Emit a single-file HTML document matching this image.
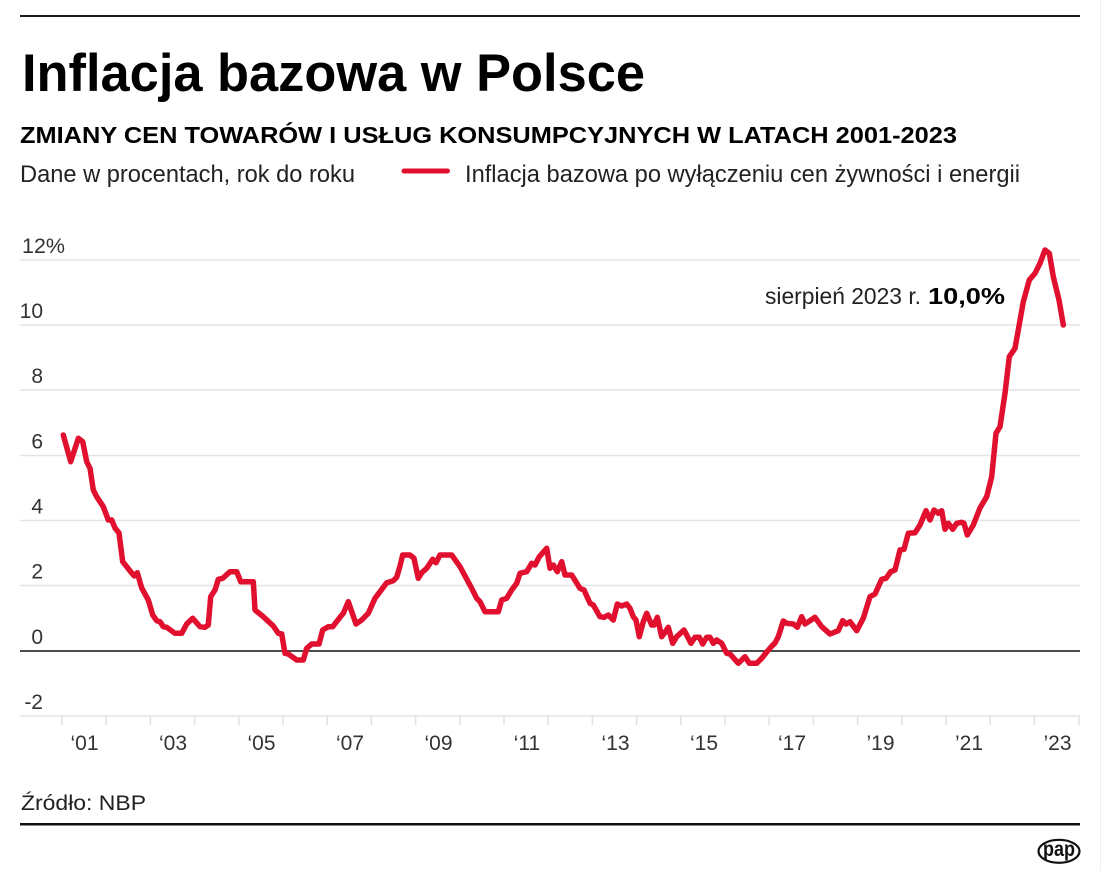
<!DOCTYPE html>
<html>
<head>
<meta charset="utf-8">
<style>
  html,body{margin:0;padding:0;background:#fff;}
  svg{display:block;}
  text{font-family:"Liberation Sans", "DejaVu Sans", sans-serif;}
</style>
</head>
<body>
<svg width="1103" height="871" viewBox="0 0 1103 871" xmlns="http://www.w3.org/2000/svg">
  <rect x="0" y="0" width="1103" height="871" fill="#fff"/>
  <line x1="1100.5" y1="0" x2="1100.5" y2="871" stroke="#eeeeee" stroke-width="1"/>

  <!-- top rule -->
  <rect x="20" y="15" width="1060" height="2" fill="#1a1a1a"/>

  <!-- title -->
  <text x="22" y="91" font-size="53" font-weight="bold" fill="#000" textLength="623" lengthAdjust="spacingAndGlyphs">Inflacja bazowa w Polsce</text>
  <text x="20" y="143" font-size="23" font-weight="bold" fill="#000" textLength="937" lengthAdjust="spacingAndGlyphs">ZMIANY CEN TOWARÓW I USŁUG KONSUMPCYJNYCH W LATACH 2001-2023</text>
  <text x="20" y="182" font-size="24" fill="#222" textLength="335" lengthAdjust="spacingAndGlyphs">Dane w procentach, rok do roku</text>
  <line x1="404" y1="171" x2="447.5" y2="171" stroke="#e0102e" stroke-width="5" stroke-linecap="round"/>
  <text x="465" y="182" font-size="24" fill="#222" textLength="555" lengthAdjust="spacingAndGlyphs">Inflacja bazowa po wyłączeniu cen żywności i energii</text>

  <!-- gridlines -->
  <g stroke="#e4e4e4" stroke-width="1.5">
    <line x1="20" y1="260" x2="1080" y2="260"/>
    <line x1="20" y1="325" x2="1080" y2="325"/>
    <line x1="20" y1="390" x2="1080" y2="390"/>
    <line x1="20" y1="455.5" x2="1080" y2="455.5"/>
    <line x1="20" y1="520.5" x2="1080" y2="520.5"/>
    <line x1="20" y1="585.5" x2="1080" y2="585.5"/>
    <line x1="20" y1="716" x2="1080" y2="716"/>
  </g>
  <line x1="20" y1="651" x2="1080" y2="651" stroke="#111" stroke-width="1.5"/>

  <!-- x ticks -->
  <g stroke="#e0e0e0" stroke-width="1.5">
    <line x1="62" y1="716" x2="62" y2="725"/>
    <line x1="106.2" y1="716" x2="106.2" y2="725"/>
    <line x1="150.4" y1="716" x2="150.4" y2="725"/>
    <line x1="194.6" y1="716" x2="194.6" y2="725"/>
    <line x1="238.8" y1="716" x2="238.8" y2="725"/>
    <line x1="283" y1="716" x2="283" y2="725"/>
    <line x1="327.2" y1="716" x2="327.2" y2="725"/>
    <line x1="371.4" y1="716" x2="371.4" y2="725"/>
    <line x1="415.6" y1="716" x2="415.6" y2="725"/>
    <line x1="459.8" y1="716" x2="459.8" y2="725"/>
    <line x1="504" y1="716" x2="504" y2="725"/>
    <line x1="548.2" y1="716" x2="548.2" y2="725"/>
    <line x1="592.4" y1="716" x2="592.4" y2="725"/>
    <line x1="636.6" y1="716" x2="636.6" y2="725"/>
    <line x1="680.8" y1="716" x2="680.8" y2="725"/>
    <line x1="725" y1="716" x2="725" y2="725"/>
    <line x1="769.2" y1="716" x2="769.2" y2="725"/>
    <line x1="813.4" y1="716" x2="813.4" y2="725"/>
    <line x1="857.6" y1="716" x2="857.6" y2="725"/>
    <line x1="901.8" y1="716" x2="901.8" y2="725"/>
    <line x1="946" y1="716" x2="946" y2="725"/>
    <line x1="990.2" y1="716" x2="990.2" y2="725"/>
    <line x1="1034.4" y1="716" x2="1034.4" y2="725"/>
    <line x1="1079" y1="716" x2="1079" y2="725"/>
  </g>

  <!-- y labels -->
  <g font-size="21" fill="#333">
    <text x="22" y="253" textLength="43" lengthAdjust="spacingAndGlyphs">12%</text>
    <text x="43" y="318" text-anchor="end">10</text>
    <text x="43" y="383" text-anchor="end">8</text>
    <text x="43" y="448.5" text-anchor="end">6</text>
    <text x="43" y="513.5" text-anchor="end">4</text>
    <text x="43" y="578.5" text-anchor="end">2</text>
    <text x="43" y="644" text-anchor="end">0</text>
    <text x="43" y="709" text-anchor="end">-2</text>
  </g>

  <!-- x labels -->
  <g font-size="21" fill="#333" text-anchor="middle">
    <text x="84.5" y="750">‘01</text>
    <text x="173" y="750">‘03</text>
    <text x="261.5" y="750">‘05</text>
    <text x="350" y="750">‘07</text>
    <text x="438.5" y="750">‘09</text>
    <text x="527" y="750">‘11</text>
    <text x="615.5" y="750">‘13</text>
    <text x="704" y="750">‘15</text>
    <text x="792" y="750">‘17</text>
    <text x="880.5" y="750">’19</text>
    <text x="969" y="750">’21</text>
    <text x="1057.5" y="750">’23</text>
  </g>

  <!-- series -->
  <polyline fill="none" stroke="#e0102e" stroke-width="5.5" stroke-linejoin="round" stroke-linecap="round" points="
63.3,435 70.7,461.7 78.3,438.3 82.7,441.7 86.7,461.7 90,468.3 93.3,490 96.7,496.7 103.3,506.7 108.3,520 111.7,520 115,528 119,533 122.7,561.7 126.7,566.7 131.7,573 134.3,576 137.3,572.7 141.7,588 148.3,600 152.7,615 156.7,620.7 160,621.7 163.3,626.7 166.7,627.3 175,633.3 181.7,633.3 186.7,624 192.7,618.3 200,626.7 205,627.3 208.3,625 210.7,596.7 215,590 218.3,579.3 222.7,578.3 230,571.7 236.7,571.7 240.7,581.7 253.3,581.7 255,610 263.3,616.7 273.3,626 278.3,633.3 281.7,634 285,653.3 288.3,654 296.7,660 303.3,660 306.7,648.3 311.7,644 319,644 322.7,630 328.3,626.7 332.7,626.7 340,617.3 343.3,613.3 348.3,601.7 356,624 361.7,620 368.3,613.3 375,598.3 383.3,587.3 386.7,582.7 393.3,580.7 396.7,577.3 400,566 402.7,555 410,555 414,558.3 418.3,578.3 421.7,572.7 426.7,568.3 432.7,559.3 436,562.7 440,555 451.7,555 460,566.7 471.7,588.3 476.7,598.3 480,601.7 485,611.7 498.3,611.7 501.7,600 506.7,598.3 511.7,590 516.7,583.3 520,573.3 526.7,571.7 531.7,563.3 535,565 539.3,556.7 546.7,548.3 550,568.3 553.3,565 557.3,571.7 561.7,561.7 565,575 571.7,575 580,588.3 584,590 590,603.3 593.3,605 600,616.7 604,617.3 608.3,615 613.3,620 617.3,604 621.7,606 626.7,604 630,608.3 633.3,616.7 636,620 639.3,636.7 643.3,621.7 646.7,613.3 651.7,625 654,625 657.3,617.3 661.7,636.7 664.3,633.3 668.3,627.3 672.7,643.3 676.7,636.7 684,630 691,643.3 695,637.3 699.3,637.3 702.7,644 706.7,637.3 710,637.3 713.3,643.3 716.7,640 721.7,643.3 726.7,653.3 730,654 738.3,663.3 745,656.7 749.3,663.3 756.7,663.3 762,658 766.7,652 771,647 775,643 778.3,636.7 783.3,621 786.7,623.3 793.3,624 797.3,627.3 801.7,616.7 805,624 810,620.7 815,617.3 821.7,626.7 830,634 838.3,630.7 842.7,620.7 846,624 850,621.7 856.7,630.7 863.3,618.3 870,596.7 875,594 881.7,579.3 886,578.3 890.7,571.7 895,570 900,550 904,549.3 908.3,533.3 915,532.7 920,525 926,510.7 930,520 934,510 938.3,513.3 941.7,510.7 945,529.3 948.3,523.3 952.7,529.3 956.7,523.3 961.7,522.3 964,523.3 967.3,535 973.3,525 980,508 986.7,496.7 991.7,476.7 996,433.3 1000,426.7 1005,393.3 1009.3,356.7 1015,348.3 1018.3,330 1023.3,301.7 1029.3,280 1035,273.3 1040,263.3 1045,250 1049.3,253.3 1053.3,276.7 1059,300 1063.3,325"/>

  <!-- annotation -->
  <text x="765" y="304" font-size="23" fill="#222" textLength="156" lengthAdjust="spacingAndGlyphs">sierpień 2023 r.</text>
  <text x="928" y="304" font-size="23" font-weight="bold" fill="#000" textLength="77" lengthAdjust="spacingAndGlyphs">10,0%</text>

  <!-- source -->
  <text x="21" y="810" font-size="21" fill="#222" textLength="125" lengthAdjust="spacingAndGlyphs">Źródło: NBP</text>
  <rect x="20" y="823" width="1060" height="2.5" fill="#111"/>

  <!-- pap logo -->
  <ellipse cx="1059" cy="851.3" rx="20.5" ry="11.5" fill="#fff" stroke="#111" stroke-width="2.2"/>
  <text x="1059" y="856" font-size="21" font-weight="bold" fill="#111" text-anchor="middle" textLength="32" lengthAdjust="spacingAndGlyphs">pap</text>
</svg>
</body>
</html>
